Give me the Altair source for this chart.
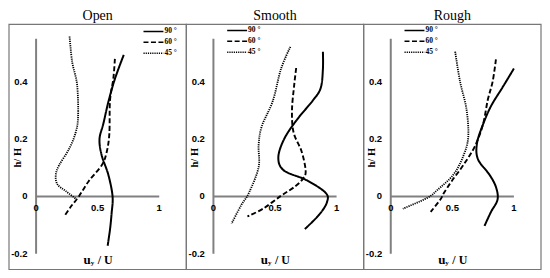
import altair as alt
import pandas as pd

series = ["90 °", "60 °", "45 °"]
series_rank = [0, 1, 2]
panels = ["Open", "Smooth", "Rough"]

# ---- Open ----
open_90_x = [0.712, 0.64, 0.587, 0.547, 0.515, 0.533, 0.587, 0.621, 0.613, 0.600, 0.581]
open_90_y = [0.494, 0.41, 0.33, 0.255, 0.20, 0.143, 0.075, 0.0, -0.06, -0.116, -0.172]
open_60_x = [0.64, 0.627, 0.60, 0.595, 0.573, 0.533, 0.427, 0.347, 0.28, 0.227]
open_60_y = [0.48, 0.41, 0.334, 0.22, 0.154, 0.109, 0.053, 0.0, -0.037, -0.071]
open_45_x = [0.272, 0.293, 0.333, 0.341, 0.32, 0.267, 0.187, 0.16, 0.173, 0.24, 0.325]
open_45_y = [0.558, 0.469, 0.39, 0.278, 0.221, 0.165, 0.109, 0.075, 0.042, 0.019, -0.009]

# ---- Smooth ----
smooth_90_x = [0.889, 0.889, 0.871, 0.806, 0.677, 0.574, 0.527, 0.574, 0.755, 0.91, 0.922, 0.858, 0.742]
smooth_90_y = [0.505, 0.444, 0.378, 0.334, 0.267, 0.2, 0.135, 0.09, 0.057, 0.013, -0.02, -0.064, -0.114]
smooth_60_x = [0.672, 0.656, 0.638, 0.651, 0.716, 0.749, 0.729, 0.664, 0.548, 0.406, 0.276]
smooth_60_y = [0.448, 0.389, 0.30, 0.223, 0.157, 0.09, 0.063, 0.035, 0.002, -0.042, -0.07]
smooth_45_x = [0.625, 0.548, 0.483, 0.393, 0.367, 0.367, 0.289, 0.225, 0.147]
smooth_45_y = [0.522, 0.444, 0.334, 0.245, 0.179, 0.102, 0.013, -0.031, -0.095]

# ---- Rough ----
rough_90_x = [1.0, 0.907, 0.814, 0.748, 0.70, 0.708, 0.801, 0.854, 0.867, 0.814, 0.761]
rough_90_y = [0.446, 0.38, 0.315, 0.25, 0.185, 0.13, 0.076, 0.033, -0.011, -0.054, -0.103]
rough_60_x = [0.854, 0.828, 0.788, 0.748, 0.682, 0.589, 0.496, 0.43, 0.403, 0.324]
rough_60_y = [0.478, 0.402, 0.337, 0.25, 0.174, 0.109, 0.054, 0.011, -0.011, -0.054]
rough_45_x = [0.523, 0.562, 0.615, 0.629, 0.589, 0.509, 0.377, 0.297, 0.098]
rough_45_y = [0.505, 0.402, 0.304, 0.207, 0.141, 0.076, 0.022, -0.005, -0.043]

y_ticks = [-0.2, 0.0, 0.2, 0.4]
y_tick_labels = ["-0.2", "0", "0.2", "0.4"]
x_ticks = [0.0, 0.5, 1.0]
x_tick_labels = ["0", "0.5", "1"]

axis_x = [0.0, 0.0]
axis_x2 = [0.0, 1.0]
axis_y = [-0.2, 0.0]
axis_y2 = [0.55, 0.0]

# ---------------- layout constants ----------------
W_PANEL, W, H = 178, 534, 262
X_LO, X_HI = -0.22, 1.22            # panel x extent in data units
SPAN = X_HI - X_LO
Y_LO, Y_FRAME = -0.255, 0.6         # frame bottom / top in data units
FRAME_TOP_PX = 16
DY_PX = (Y_FRAME - Y_LO) / (H - FRAME_TOP_PX)
Y_TOP = Y_FRAME + FRAME_TOP_PX * DY_PX
DX_PX = SPAN / W_PANEL
XS = alt.Scale(domain=[X_LO, X_LO + 3 * SPAN], nice=False, zero=False)
YS = alt.Scale(domain=[Y_LO, Y_TOP], nice=False, zero=False)

GRAY = "#808080"
SERIF = "Liberation Serif"
SANS = "Liberation Sans"
dashes = [[1, 0], [5, 2.5], [1.2, 1]]
widths = [2.0, 1.8, 1.4]
DASH = alt.Scale(domain=series, range=dashes)
WID = alt.Scale(domain=series, range=widths)

# legend position inside each panel: pixels from the frame's top-left
legend_px = {"Open": (135, 7), "Smooth": (41, 6), "Rough": (41, 6)}
LEG_LEN, LEG_ROW = 20, 11

offs = {p: i * SPAN for i, p in enumerate(panels)}

# ---------------- tables ----------------
table = [
    ("Open", "90 °", open_90_x, open_90_y), ("Open", "60 °", open_60_x, open_60_y), ("Open", "45 °", open_45_x, open_45_y),
    ("Smooth", "90 °", smooth_90_x, smooth_90_y), ("Smooth", "60 °", smooth_60_x, smooth_60_y), ("Smooth", "45 °", smooth_45_x, smooth_45_y),
    ("Rough", "90 °", rough_90_x, rough_90_y), ("Rough", "60 °", rough_60_x, rough_60_y), ("Rough", "45 °", rough_45_x, rough_45_y),
]
rows = []
for p, s, xs_, ys_ in table:
    for i, (a, b) in enumerate(zip(xs_, ys_)):
        rows.append({"panel": p, "off": offs[p], "series": s, "idx": i, "x": a, "y": b})
df = pd.DataFrame(rows)

panel_df = pd.DataFrame({"panel": panels, "off": [offs[p] for p in panels]})
axes_df = pd.DataFrame([
    {"panel": p, "off": offs[p], "x": a, "x2": b, "y": c, "y2": d}
    for p in panels for a, b, c, d in zip(axis_x, axis_x2, axis_y, axis_y2)
])
ylab_df = pd.DataFrame([{"off": offs[p], "v": v, "t": t} for p in panels for v, t in zip(y_ticks, y_tick_labels)])
xlab_df = pd.DataFrame([{"off": offs[p], "v": v, "t": t} for p in panels for v, t in zip(x_ticks, x_tick_labels)])
leg_df = pd.DataFrame([
    {"off": offs[p], "lx": legend_px[p][0], "ly": legend_px[p][1], "series": s, "rank": r}
    for p in panels for s, r in zip(series, series_rank)
])

X = lambda f: alt.X(f, scale=XS, axis=None)
Y = lambda f: alt.Y(f, scale=YS, axis=None)

frames = alt.Chart(panel_df).transform_calculate(
    fx=f"{X_LO} + datum.off", fx2=f"{X_HI} + datum.off", fy=f"{Y_LO}", fy2=f"{Y_FRAME}"
).mark_rect(fill=None, stroke="#777777", strokeWidth=1.2).encode(
    x=X("fx:Q"), x2="fx2:Q", y=Y("fy:Q"), y2="fy2:Q"
)

titles = alt.Chart(panel_df).transform_calculate(
    tx="0.5 + datum.off", ty=f"{Y_TOP - 7.5 * DY_PX}"
).mark_text(font=SERIF, fontSize=14, color="black", baseline="middle").encode(
    x=X("tx:Q"), y=Y("ty:Q"), text="panel:N"
)

rules = alt.Chart(axes_df).transform_calculate(
    ax="datum.x + datum.off", ax2="datum.x2 + datum.off"
).mark_rule(color=GRAY, strokeWidth=2).encode(
    x=X("ax:Q"), x2="ax2:Q", y=Y("y:Q"), y2="y2:Q"
)

ylab = alt.Chart(ylab_df).transform_calculate(lx="-0.07 + datum.off").mark_text(
    align="right", baseline="middle", font=SANS, fontWeight="bold", fontSize=9.5, color="black"
).encode(x=X("lx:Q"), y=Y("v:Q"), text="t:N")

xlab = alt.Chart(xlab_df).transform_calculate(lx="datum.v + datum.off", ly="0").mark_text(
    align="center", baseline="middle", font=SANS, fontWeight="bold", fontSize=9.5, color="black", dy=12
).encode(x=X("lx:Q"), y=Y("ly:Q"), text="t:N")

ytitle = alt.Chart(panel_df).transform_calculate(
    tx="-0.15 + datum.off", ty="0.135", t="'h/ H'"
).mark_text(
    angle=270, align="center", baseline="middle", font=SERIF, fontWeight="bold", fontSize=10.5, color="black"
).encode(x=X("tx:Q"), y=Y("ty:Q"), text="t:N")

xt_base = alt.Chart(panel_df).transform_calculate(tx="0.5 + datum.off", ty="-0.222")
xt_u = xt_base.transform_calculate(t="'u'").mark_text(
    align="right", baseline="middle", font=SERIF, fontWeight="bold", fontSize=13, color="black", dx=-7
).encode(x=X("tx:Q"), y=Y("ty:Q"), text="t:N")
xt_y = xt_base.transform_calculate(t="'y'").mark_text(
    align="left", baseline="middle", font=SERIF, fontWeight="bold", fontSize=7, color="black", dx=-7, dy=3
).encode(x=X("tx:Q"), y=Y("ty:Q"), text="t:N")
xt_r = xt_base.transform_calculate(t="'/ U'").mark_text(
    align="left", baseline="middle", font=SERIF, fontWeight="bold", fontSize=12, color="black", dx=0
).encode(x=X("tx:Q"), y=Y("ty:Q"), text="t:N")

lines = alt.Chart(df).transform_calculate(xp="datum.x + datum.off").mark_line(
    color="black", interpolate="cardinal"
).encode(
    x=X("xp:Q"), y=Y("y:Q"),
    detail="panel:N",
    order="idx:O",
    strokeDash=alt.StrokeDash("series:N", scale=DASH, legend=None),
    strokeWidth=alt.StrokeWidth("series:N", scale=WID, legend=None),
)

leg_base = alt.Chart(leg_df).transform_calculate(
    gx=f"{X_LO} + datum.off + datum.lx * {DX_PX}",
    gx2=f"{X_LO} + datum.off + (datum.lx + {LEG_LEN}) * {DX_PX}",
    gy=f"{Y_FRAME} - (datum.ly + {LEG_ROW} * datum.rank) * {DY_PX}",
)
leg_lines = leg_base.mark_rule(color="black", strokeWidth=1.5).encode(
    x=X("gx:Q"), x2="gx2:Q", y=Y("gy:Q"),
    strokeDash=alt.StrokeDash("series:N", scale=DASH, legend=None),
)
leg_text = leg_base.mark_text(
    align="left", baseline="middle", font=SERIF, fontWeight="bold", fontSize=7.5, color="black", dx=1
).encode(x=X("gx2:Q"), y=Y("gy:Q"), text="series:N")

chart = alt.layer(
    frames, rules, titles, ylab, xlab, ytitle, xt_u, xt_y, xt_r, lines, leg_lines, leg_text
).properties(width=W, height=H, padding=0).configure_view(stroke=None).configure_axis(disable=True)

chart.save("out.html", embed_options={"renderer": "svg", "actions": False})
